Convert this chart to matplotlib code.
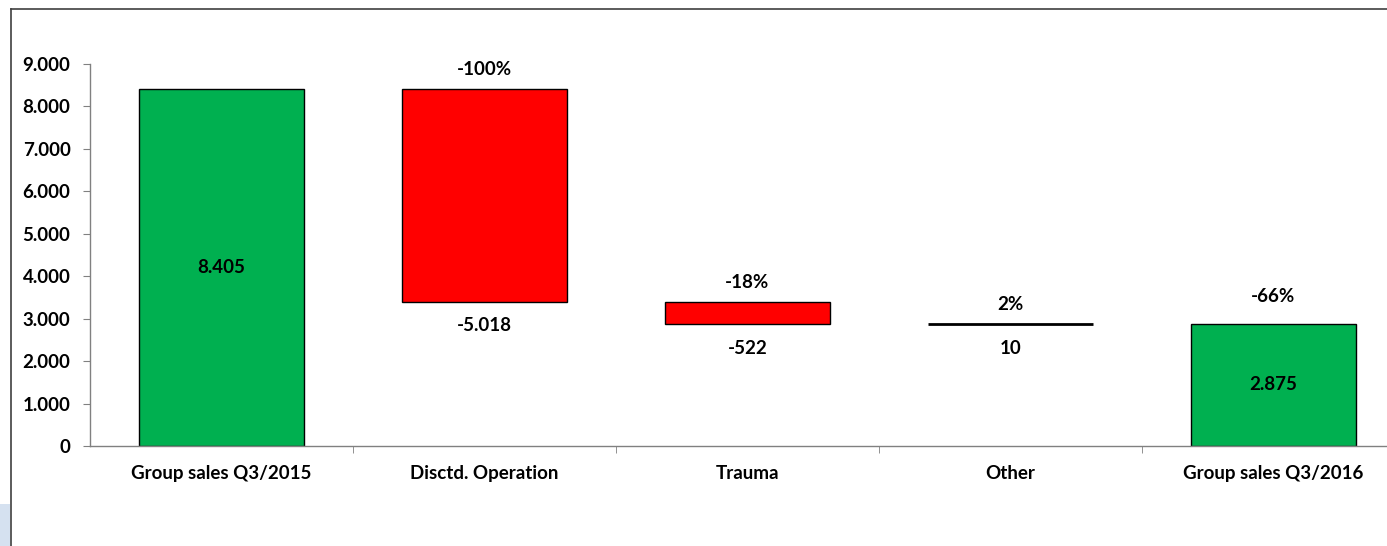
import matplotlib.pyplot as plt
from matplotlib.lines import Line2D
from matplotlib.patches import Rectangle

# data
categories = ["Group sales Q3/2015", "Disctd. Operation", "Trauma", "Other", "Group sales Q3/2016"]
changes = [8405, -5018, -522, 10, 2875]
is_total = [True, False, False, False, True]
pct_labels = ["", "-100%", "-18%", "2%", "-66%"]

green = "#00b050"
red = "#ff0000"
fs = 13.5

plt.rcParams['font.family'] = ['Lato', 'DejaVu Sans']
plt.rcParams['font.weight'] = 'bold'

fig = plt.figure(figsize=(13.87, 5.46), dpi=100)
ax = fig.add_axes([90 / 1387, 100 / 546, 1315 / 1387, 382 / 546])

running = 0
for i, (cat, val, tot) in enumerate(zip(categories, changes, is_total)):
    if tot:
        bottom, height = 0, val
        running = val
        color = green
    else:
        bottom = running if val > 0 else running + val
        height = abs(val)
        running += val
        color = red if val < 0 else green
    if cat == "Other":
        ax.bar(i, height, 0.63, bottom=bottom, color="black", edgecolor="black", linewidth=2)
    else:
        ax.bar(i, height, 0.63, bottom=bottom, color=color, edgecolor="black", linewidth=1)

    txt = f"{val:,}".replace(",", ".")
    top = bottom + height
    if tot:
        ax.text(i, height / 2, txt, ha="center", va="center", fontsize=fs, fontweight="bold")
    else:
        ax.annotate(txt, (i, bottom), xytext=(0, -17), textcoords="offset points",
                    ha="center", va="center", fontsize=fs, fontweight="bold")
    if pct_labels[i]:
        off = 20 if tot else 14
        ax.annotate(pct_labels[i], (i, top), xytext=(0, off), textcoords="offset points",
                    ha="center", va="center", fontsize=fs, fontweight="bold")

ax.set_xlim(-0.5, len(categories) - 0.5)
ax.set_ylim(0, 9000)
ax.set_yticks(range(0, 9001, 1000))
ax.set_yticklabels([f"{v:,}".replace(",", ".") for v in range(0, 9001, 1000)])
ax.set_xticks(range(len(categories)))
ax.set_xticklabels(categories)
ax.set_xticks([i + 0.5 for i in range(len(categories) - 1)], minor=True)
ax.tick_params(axis="x", which="major", length=0, pad=14, labelsize=fs)
ax.tick_params(axis="x", which="minor", length=5, color="#808080", direction="out")
ax.tick_params(axis="y", length=5, color="#808080", pad=9, labelsize=fs)
for lbl in ax.get_xticklabels() + ax.get_yticklabels():
    lbl.set_fontweight("bold")

for s in ["top", "right"]:
    ax.spines[s].set_visible(False)
for s in ["left", "bottom"]:
    ax.spines[s].set_color("#808080")
    ax.spines[s].set_linewidth(1)

# chart area frame (cropped)
fig.add_artist(Line2D([11 / 1387, 1], [1 - 9 / 546, 1 - 9 / 546], color="#404040", lw=1.2))
fig.add_artist(Line2D([11 / 1387, 11 / 1387], [0, 1 - 9 / 546], color="#404040", lw=1.2))
fig.add_artist(Rectangle((0, 0), 10 / 1387, 42 / 546, color="#d5e1f0", lw=0))

fig.savefig("out.png", dpi=100)
